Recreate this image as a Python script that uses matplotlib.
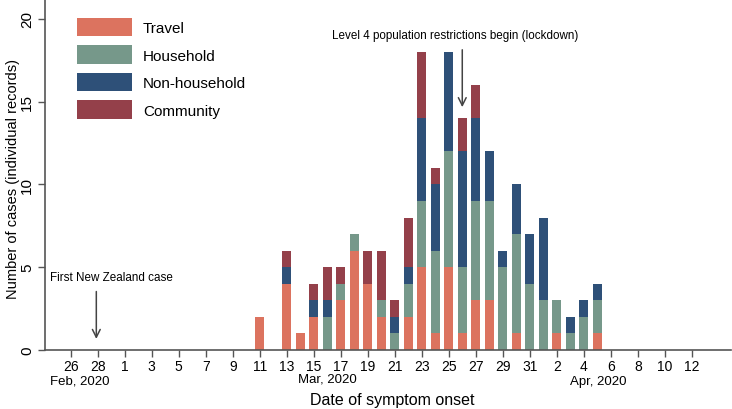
import matplotlib.pyplot as plt
import numpy as np

plt.rcParams['font.family'] = ['Liberation Sans', 'DejaVu Sans']

# days counted from Feb 26, 2020 (Mar 1 = 4, Apr 1 = 35)
days = np.arange(14, 40)  # Mar 11 .. Apr 5
travel = [2, 0, 4, 1, 2, 0, 3, 6, 4, 2, 0, 2, 5, 1, 5, 1, 3, 3, 0, 1, 0, 0, 1, 0, 0, 1]
household = [0, 0, 0, 0, 0, 2, 1, 1, 0, 1, 1, 2, 4, 5, 7, 4, 6, 6, 5, 6, 4, 3, 2, 1, 2, 2]
nonhousehold = [0, 0, 1, 0, 1, 1, 0, 0, 0, 0, 1, 1, 5, 4, 6, 7, 5, 3, 1, 3, 3, 5, 0, 1, 1, 1]
community = [0, 0, 1, 0, 1, 2, 1, 0, 2, 3, 1, 3, 4, 1, 0, 2, 2, 0, 0, 0, 0, 0, 0, 0, 0, 0]

tick_pos = list(range(0, 47, 2))
tick_labels = ['26', '28', '1', '3', '5', '7', '9', '11', '13', '15', '17', '19', '21',
               '23', '25', '27', '29', '31', '2', '4', '6', '8', '10', '12']

series = [("Travel", travel, "#dc735f"),
          ("Household", household, "#76988a"),
          ("Non-household", nonhousehold, "#2e5078"),
          ("Community", community, "#94404a")]

fig = plt.figure(figsize=(7.32, 4.10), dpi=100)
ax = fig.add_axes([45 / 732, 59 / 410, 686 / 732, 351 / 410])

bottom = np.zeros(len(days))
for name, vals, col in series:
    ax.bar(days, vals, width=0.66, bottom=bottom, color=col, label=name)
    bottom += np.array(vals)

ax.set_xlim(-1.9, 48.9)
ax.set_ylim(0, 21.2)
ax.set_yticks([0, 5, 10, 15, 20])
ax.set_yticklabels(['0', '5', '10', '15', '20'], rotation=90, va='center', fontsize=11)
ax.set_xticks(tick_pos)
ax.set_xticklabels(tick_labels, fontsize=10)
ax.tick_params(axis='both', length=5, color='#555555', width=1)
ax.tick_params(axis='x', pad=1.5)
ax.tick_params(axis='y', pad=3)
for s in ['top', 'right']:
    ax.spines[s].set_visible(False)
for s in ['left', 'bottom']:
    ax.spines[s].set_color('#555555')
    ax.spines[s].set_linewidth(1.2)

ax.set_ylabel("Number of cases (individual records)", fontsize=10.5)
ax.yaxis.set_label_coords(-25 / 686, 0.49)
fig.text(392 / 732, 1 - 401 / 410, "Date of symptom onset", ha='center', va='center', fontsize=11.5)

fig.text(80 / 732, 1 - 382 / 410, "Feb, 2020", ha='center', va='center', fontsize=9.5)
fig.text(327 / 732, 1 - 380 / 410, "Mar, 2020", ha='center', va='center', fontsize=9.5)
fig.text(598 / 732, 1 - 382 / 410, "Apr, 2020", ha='center', va='center', fontsize=9.5)

ax.annotate("", xy=(29, 14.5), xytext=(29, 18.3),
            arrowprops=dict(arrowstyle='->', color='#444444', lw=1.1, mutation_scale=14))
ax.text(28.5, 19.05, "Level 4 population restrictions begin (lockdown)", ha='center',
        va='center', fontsize=8.4)
ax.annotate("", xy=(1.9, 0.5), xytext=(1.9, 3.7),
            arrowprops=dict(arrowstyle='->', color='#444444', lw=1.1, mutation_scale=14))
ax.text(3.0, 4.4, "First New Zealand case", ha='center', va='center', fontsize=8.4)

ax.legend(loc='upper left', bbox_to_anchor=(0.027, 0.986), frameon=False, fontsize=11,
          handlelength=3.6, handleheight=1.48, labelspacing=0.6, handletextpad=0.7)

fig.savefig("out.png", dpi=100)
